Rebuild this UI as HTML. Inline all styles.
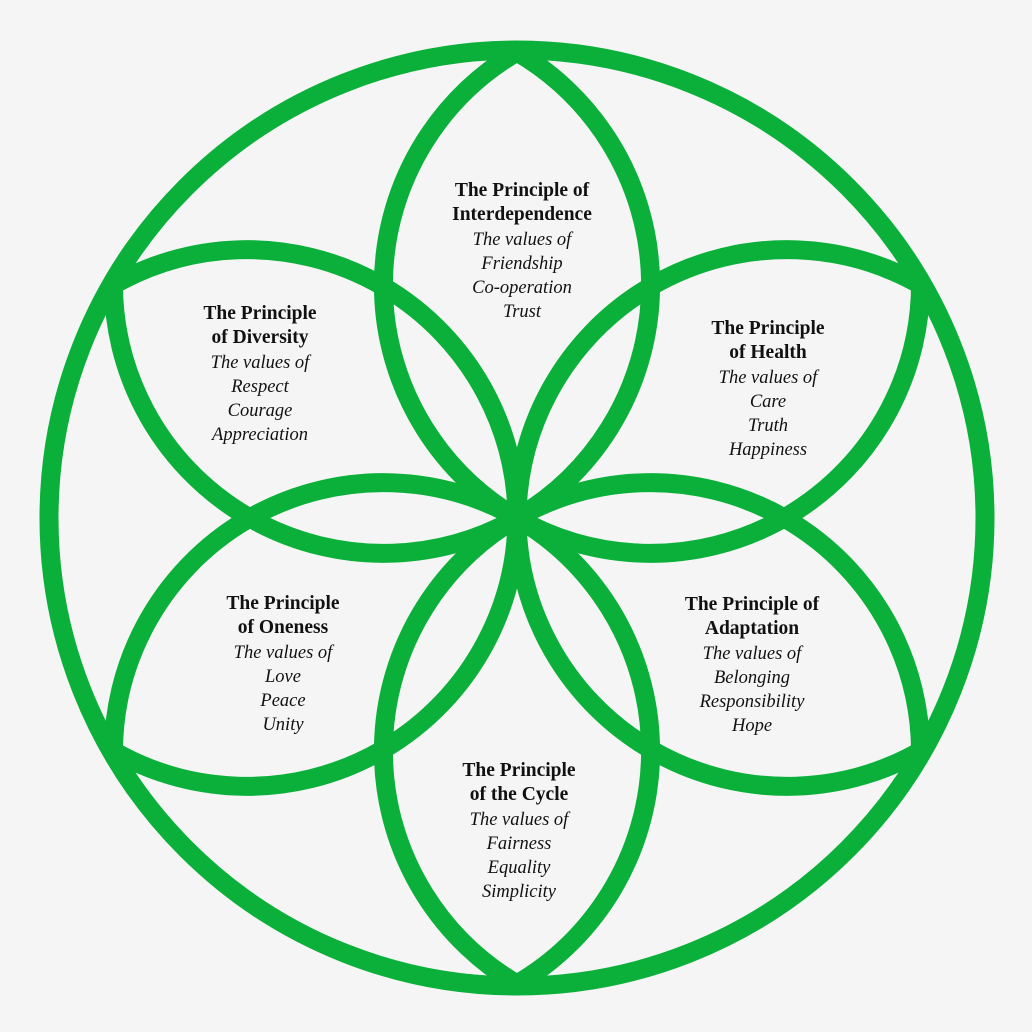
<!DOCTYPE html>
<html><head><style>
html,body{margin:0;padding:0;background:#f5f5f5;}
svg{display:block}
text{font-family:"Liberation Serif",serif;fill:#111;text-anchor:middle}
.t{font-weight:bold;font-size:19.5px}
.v{font-style:italic;font-size:18.5px}
</style></head><body>
<svg width="1032" height="1032" viewBox="0 0 1032 1032">
<rect width="1032" height="1032" fill="#f5f5f5"/>
<g fill="none" stroke="#0bb03a" stroke-width="19" stroke-linejoin="round">
<circle cx="517" cy="518" r="468"/>
<g transform="translate(517 518)">
<path id="p" d="M0 0 A270 270 0 0 1 0 -466 A270 270 0 0 1 0 0Z"/>
<use href="#p" transform="rotate(60)"/>
<use href="#p" transform="rotate(120)"/>
<use href="#p" transform="rotate(180)"/>
<use href="#p" transform="rotate(240)"/>
<use href="#p" transform="rotate(300)"/>
</g>
</g>
<text x="522" y="196" class="t">The Principle of</text>
<text x="522" y="220" class="t">Interdependence</text>
<text x="522" y="245" class="v">The values of</text>
<text x="522" y="269" class="v">Friendship</text>
<text x="522" y="293" class="v">Co-operation</text>
<text x="522" y="317" class="v">Trust</text>

<text x="260" y="319" class="t">The Principle</text>
<text x="260" y="343" class="t">of Diversity</text>
<text x="260" y="368" class="v">The values of</text>
<text x="260" y="392" class="v">Respect</text>
<text x="260" y="416" class="v">Courage</text>
<text x="260" y="440" class="v">Appreciation</text>

<text x="768" y="334" class="t">The Principle</text>
<text x="768" y="358" class="t">of Health</text>
<text x="768" y="383" class="v">The values of</text>
<text x="768" y="407" class="v">Care</text>
<text x="768" y="431" class="v">Truth</text>
<text x="768" y="455" class="v">Happiness</text>

<text x="283" y="609" class="t">The Principle</text>
<text x="283" y="633" class="t">of Oneness</text>
<text x="283" y="658" class="v">The values of</text>
<text x="283" y="682" class="v">Love</text>
<text x="283" y="706" class="v">Peace</text>
<text x="283" y="730" class="v">Unity</text>

<text x="752" y="610" class="t">The Principle of</text>
<text x="752" y="634" class="t">Adaptation</text>
<text x="752" y="659" class="v">The values of</text>
<text x="752" y="683" class="v">Belonging</text>
<text x="752" y="707" class="v">Responsibility</text>
<text x="752" y="731" class="v">Hope</text>

<text x="519" y="776" class="t">The Principle</text>
<text x="519" y="800" class="t">of the Cycle</text>
<text x="519" y="825" class="v">The values of</text>
<text x="519" y="849" class="v">Fairness</text>
<text x="519" y="873" class="v">Equality</text>
<text x="519" y="897" class="v">Simplicity</text>
</svg>
</body></html>
